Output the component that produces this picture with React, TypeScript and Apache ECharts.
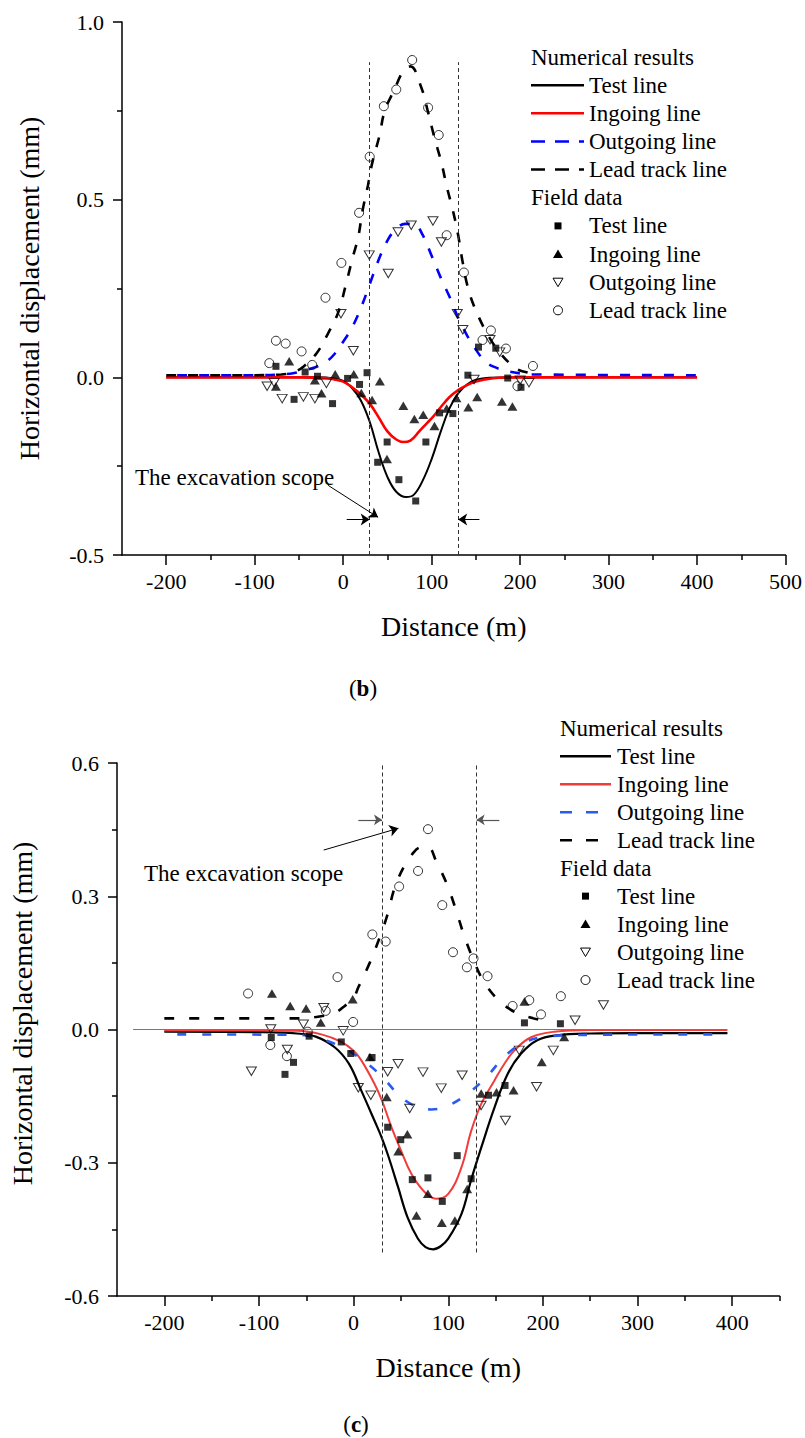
import React, { useEffect, useRef } from 'react';
import * as echarts from 'echarts';

const FONT = "'Liberation Serif', 'Times New Roman', Times, serif";

// ---------- Panel (b) ----------
const bXMajor = [-200, -100, 0, 100, 200, 300, 400, 500];
const bXMinor = [-150, -50, 50, 150, 250, 350, 450];
const bYMajor = [-0.5, 0, 0.5, 1.0];
const bYMinor = [-0.25, 0.25, 0.75];

const bTestCurve = [[-200, 0], [-100, 0], [-30, 0], [-10, -0.003], [0, -0.01], [10, -0.03], [20, -0.065], [30, -0.125], [40, -0.21], [50, -0.28], [60, -0.322], [71, -0.337], [80, -0.33], [90, -0.29], [100, -0.23], [110, -0.155], [120, -0.088], [130, -0.045], [140, -0.02], [150, -0.007], [165, -0.001], [200, 0], [400, 0]];
const bIngoingCurve = [[-200, 0], [-50, 0], [-20, -0.002], [-10, -0.006], [0, -0.012], [10, -0.028], [20, -0.048], [30, -0.074], [40, -0.112], [50, -0.152], [60, -0.175], [68, -0.182], [76, -0.178], [86, -0.152], [95, -0.128], [102, -0.11], [110, -0.085], [120, -0.056], [130, -0.036], [140, -0.022], [150, -0.012], [160, -0.006], [176, -0.001], [200, 0], [400, 0]];
const bOutgoingCurve = [[-200, 0.006], [-100, 0.006], [-60, 0.01], [-50, 0.015], [-40, 0.022], [-30, 0.03], [-20, 0.042], [-10, 0.065], [0, 0.1], [10, 0.14], [20, 0.195], [30, 0.262], [40, 0.33], [50, 0.385], [60, 0.418], [70, 0.432], [80, 0.432], [90, 0.4], [100, 0.342], [110, 0.282], [120, 0.228], [130, 0.168], [140, 0.118], [150, 0.078], [160, 0.046], [170, 0.03], [185, 0.018], [200, 0.011], [215, 0.008], [400, 0.006]];
const bLeadCurve = [[-200, 0.006], [-100, 0.006], [-70, 0.008], [-55, 0.016], [-45, 0.03], [-30, 0.068], [-17, 0.124], [-6, 0.18], [3, 0.26], [10, 0.33], [17, 0.395], [22, 0.47], [28, 0.54], [33, 0.605], [41, 0.68], [47, 0.75], [58, 0.81], [68, 0.862], [76, 0.875], [88, 0.818], [96, 0.746], [103, 0.676], [111, 0.605], [117, 0.538], [124, 0.47], [130, 0.4], [135, 0.325], [141, 0.253], [150, 0.188], [165, 0.113], [177, 0.07], [190, 0.035], [197, 0.022], [215, 0.01]];

const bTestField = [[-76, 0.031], [-55.5, -0.062], [-43, 0.015], [-29, 0.003], [-12, -0.074], [5, -0.003], [18.5, -0.02], [27, 0.013], [39, -0.239], [49.7, -0.182], [63, -0.288], [82, -0.348], [93.5, -0.182], [109, -0.1], [124, -0.102], [141, 0.006], [153, 0.085], [172.5, 0.082], [186, -0.002], [201, -0.028]];
const bIngoingField = [[-76, -0.026], [-61, 0.045], [-32, -0.008], [-24.5, -0.045], [-9, 0.009], [12, 0.009], [20.5, -0.044], [32.7, -0.064], [41.5, -0.011], [49.5, -0.23], [68, -0.08], [80.5, -0.117], [90.5, -0.105], [103.2, -0.137], [117, -0.088], [128, -0.058], [141.5, -0.084], [151.5, -0.055], [179.5, -0.068], [191.3, -0.082]];
const bOutgoingField = [[-86, -0.025], [-78, -0.015], [-69, -0.06], [-45, -0.055], [-32, -0.06], [-19, -0.017], [-2.5, 0.179], [11.5, 0.075], [29.5, 0.344], [51, 0.292], [62, 0.409], [77, 0.428], [101.5, 0.44], [111, 0.381], [129, 0.179], [135.3, 0.134], [148, -0.006], [166, 0.106], [177, 0.071], [200, -0.008], [210, -0.015]];
const bLeadField = [[-83.5, 0.04], [-76, 0.103], [-65, 0.095], [-47, 0.073], [-35, 0.035], [-20, 0.224], [-2, 0.322], [18, 0.463], [30, 0.621], [46, 0.763], [60, 0.81], [78, 0.893], [96, 0.759], [108, 0.682], [117, 0.4], [136.5, 0.295], [157.5, 0.105], [167, 0.132], [184, 0.081], [197, -0.025], [214.5, 0.032]];

// ---------- Panel (c) ----------
const cXMajor = [-200, -100, 0, 100, 200, 300, 400];
const cXMinor = [-150, -50, 50, 150, 250, 350, 450];
const cYMajor = [-0.6, -0.3, 0, 0.3, 0.6];
const cYMinor = [-0.45, -0.15, 0.15, 0.45];

const cTestCurve = [[-200, -0.005], [-100, -0.006], [-60, -0.009], [-40, -0.016], [-20, -0.04], [-5, -0.077], [8, -0.137], [22, -0.205], [30, -0.245], [37, -0.287], [47, -0.355], [57, -0.423], [68, -0.471], [76, -0.49], [84, -0.495], [92, -0.488], [100, -0.471], [114, -0.415], [124, -0.34], [135, -0.265], [149, -0.175], [163, -0.099], [177, -0.054], [194, -0.024], [215, -0.013], [250, -0.009], [300, -0.008], [395, -0.008]];
const cIngoingCurve = [[-200, -0.002], [-60, -0.003], [-34, -0.011], [-13, -0.028], [0, -0.048], [8, -0.069], [22, -0.122], [30, -0.16], [40, -0.22], [50, -0.272], [61, -0.325], [75, -0.366], [87, -0.381], [100, -0.37], [114, -0.31], [124, -0.23], [135, -0.167], [149, -0.114], [160, -0.075], [170, -0.047], [187, -0.018], [212, -0.005], [250, -0.001], [395, -0.001]];
const cOutgoingCurve = [[-200, -0.011], [-60, -0.012], [-37, -0.02], [-13, -0.039], [12, -0.073], [30, -0.106], [50, -0.152], [68, -0.175], [82, -0.18], [100, -0.171], [121, -0.144], [142, -0.103], [159, -0.062], [177, -0.033], [201, -0.017], [250, -0.012], [380, -0.011]];
const cLeadCurve = [[-200, 0.025], [-60, 0.025], [-40, 0.028], [-20, 0.038], [-10, 0.052], [0, 0.072], [5, 0.095], [17, 0.15], [28, 0.21], [36, 0.26], [43.5, 0.32], [54, 0.37], [62, 0.395], [70, 0.41], [78, 0.412], [88, 0.375], [99, 0.325], [108, 0.27], [117, 0.21], [127, 0.155], [137, 0.11], [152, 0.068], [165, 0.046], [177, 0.033], [198, 0.021]];

const cTestField = [[-87, -0.018], [-72.5, -0.101], [-63.5, -0.074], [-47, -0.015], [-13, -0.028], [-3, -0.054], [19.5, -0.063], [36, -0.22], [49.8, -0.248], [62, -0.338], [78.5, -0.334], [93.7, -0.387], [109.5, -0.284], [124.2, -0.336], [142.5, -0.148], [160, -0.126], [180.5, 0.015], [218.5, 0.013]];
const cIngoingField = [[-86.3, 0.081], [-67, 0.053], [-50.2, 0.047], [-34.7, 0.016], [-1, 0.068], [17.2, -0.062], [35, -0.152], [47.2, -0.274], [56.8, -0.236], [66.4, -0.419], [78.5, -0.37], [93.2, -0.435], [107, -0.43], [120, -0.359], [134.8, -0.144], [151, -0.141], [169, -0.137], [180.5, 0.063], [198.8, -0.073], [222.5, -0.017]];
const cOutgoingField = [[-108, -0.094], [-87.5, 0.001], [-70, -0.045], [-53, 0.012], [-31.5, 0.049], [-11, -0.003], [5, -0.131], [18.2, -0.148], [36, -0.095], [47, -0.077], [59.3, -0.178], [73.3, -0.096], [92.6, -0.132], [114.7, -0.103], [134.7, -0.171], [160.4, -0.205], [175, -0.047], [193.3, -0.129], [211, -0.047], [234, 0.021], [264, 0.055]];
const cLeadField = [[-111.5, 0.081], [-88, -0.035], [-70.5, -0.06], [-48.5, -0.005], [-29.5, 0.042], [-17, 0.118], [-0.5, 0.017], [19.8, 0.214], [33.9, 0.198], [48.1, 0.322], [68.1, 0.357], [78.6, 0.451], [93.7, 0.28], [105, 0.174], [119.7, 0.14], [126.7, 0.16], [141.5, 0.12], [168, 0.053], [185.6, 0.066], [198, 0.034], [219, 0.075]];

const legendLines = ['Test line', 'Ingoing line', 'Outgoing line', 'Lead track line'];
const legendHeaders = ['Numerical results', 'Field data'];

function mkXAxes(gi: number, min: number, max: number, major: number[], minor: number[]) {
  return [
    {
      type: 'value', gridIndex: gi, min, max, position: 'bottom',
      name: 'Distance (m)', nameLocation: 'middle', nameGap: 57,
      nameTextStyle: { fontFamily: FONT, fontSize: 28, color: '#000' },
      axisLine: { show: true, onZero: false, lineStyle: { color: '#000', width: 1.5 } },
      axisTick: { show: true, length: 10, customValues: major, lineStyle: { color: '#000', width: 1.5 } },
      axisLabel: { show: true, customValues: major, margin: 15, fontFamily: FONT, fontSize: 22, color: '#000', formatter: (v: number) => String(v) },
      splitLine: { show: false },
    },
    {
      type: 'value', gridIndex: gi, min, max, position: 'bottom',
      axisLine: { show: false, onZero: false },
      axisTick: { show: true, length: 5, customValues: minor, lineStyle: { color: '#000', width: 1.5 } },
      axisLabel: { show: false },
      splitLine: { show: false },
    },
  ];
}

function mkYAxes(gi: number, min: number, max: number, major: number[], minor: number[], gap: number, shift: number) {
  return [
    {
      type: 'value', gridIndex: gi, min, max, position: 'left',
      name: 'Horizontal displacement (mm)', nameLocation: 'middle', nameGap: gap,
      nameTextStyle: { fontFamily: FONT, fontSize: 28, color: '#000', padding: shift >= 0 ? [0, 0, 0, shift] : [0, -shift, 0, 0] },
      axisLine: { show: true, onZero: false, lineStyle: { color: '#000', width: 1.5 } },
      axisTick: { show: true, length: 9, customValues: major, lineStyle: { color: '#000', width: 1.5 } },
      axisLabel: { show: true, customValues: major, margin: 18, fontFamily: FONT, fontSize: 22, color: '#000', formatter: (v: number) => v.toFixed(1) },
      splitLine: { show: false },
    },
    {
      type: 'value', gridIndex: gi, min, max, position: 'left',
      axisLine: { show: false, onZero: false },
      axisTick: { show: true, length: 5, customValues: minor, lineStyle: { color: '#000', width: 1.5 } },
      axisLabel: { show: false },
      splitLine: { show: false },
    },
  ];
}

function lineS(gi: number, data: number[][], color: string, width: number, dash: any, dashOffset = 0, extra: any = {}) {
  return {
    type: 'line', xAxisIndex: gi * 2, yAxisIndex: gi * 2, data,
    showSymbol: false, symbol: 'none', smooth: 0.4,
    color, itemStyle: { color },
    lineStyle: { color, width, type: dash, dashOffset },
    z: 2, silent: true, ...extra,
  };
}

const hollow = { color: 'rgba(255,255,255,0)', borderColor: '#000', borderWidth: 1 };
const filled = { color: '#000', borderWidth: 0 };

function scatterSet(gi: number, test: number[][], ing: number[][], out: number[][], lead: number[][], extraTest: any = {}) {
  return [
    { type: 'scatter', xAxisIndex: gi * 2, yAxisIndex: gi * 2, data: test, symbol: 'rect', symbolSize: 7, itemStyle: filled, z: 3, silent: true, ...extraTest },
    { type: 'scatter', xAxisIndex: gi * 2, yAxisIndex: gi * 2, data: ing, symbol: 'triangle', symbolSize: [10, 8.5], itemStyle: filled, z: 3, silent: true },
    { type: 'scatter', xAxisIndex: gi * 2, yAxisIndex: gi * 2, data: out, symbol: 'triangle', symbolRotate: 180, symbolSize: [10, 8.5], itemStyle: hollow, z: 3, silent: true },
    { type: 'scatter', xAxisIndex: gi * 2, yAxisIndex: gi * 2, data: lead, symbol: 'circle', symbolSize: 9, itemStyle: hollow, z: 3, silent: true },
  ];
}

function legendGraphics(L: any) {
  const els: any[] = [];
  const txt = (x: number, y: number, s: string) => ({ type: 'text', x, y, style: { text: s, fontFamily: FONT, fontSize: 23, fill: '#000', verticalAlign: 'middle', align: 'left' } });
  const row = (i: number) => L.y0 + i * L.step;
  els.push(txt(L.hx, row(0), legendHeaders[0]));
  L.lines.forEach((ls: any, i: number) => {
    const y = row(i + 1);
    els.push({ type: 'line', shape: { x1: L.lx1, y1: y, x2: L.lx2, y2: y }, style: { stroke: ls.color, lineWidth: ls.width, lineDash: ls.dash || null } });
    els.push(txt(L.tx, y, legendLines[i]));
  });
  els.push(txt(L.hx, row(5), legendHeaders[1]));
  const m = L.mx;
  let y = row(6);
  els.push({ type: 'rect', shape: { x: m - 3.5, y: y - 3.5, width: 7, height: 7 }, style: { fill: '#000' } });
  els.push(txt(L.tx, y, legendLines[0]));
  y = row(7);
  els.push({ type: 'polygon', shape: { points: [[m, y - 4.5], [m + 5, y + 4], [m - 5, y + 4]] }, style: { fill: '#000' } });
  els.push(txt(L.tx, y, legendLines[1]));
  y = row(8);
  els.push({ type: 'polygon', shape: { points: [[m - 5, y - 4], [m + 5, y - 4], [m, y + 4.5]] }, style: { fill: 'none', stroke: '#000', lineWidth: 1 } });
  els.push(txt(L.tx, y, legendLines[2]));
  y = row(9);
  els.push({ type: 'circle', shape: { cx: m, cy: y, r: 4.5 }, style: { fill: 'none', stroke: '#000', lineWidth: 1 } });
  els.push(txt(L.tx, y, legendLines[3]));
  return els;
}

const B_RED = '#ff0000', B_BLUE = '#0000ff';
const C_RED = '#f23c3c', C_BLUE = '#2a5bf0';

function buildOption() {
  const vDash = { color: '#333', width: 1, type: [4, 3] };
  const series: any[] = [
    // Panel b lines
    lineS(0, bTestCurve, '#000', 2, 'solid', 0, {
      markLine: {
        silent: true, symbol: ['none', 'none'], label: { show: false }, lineStyle: vDash,
        data: [
          [{ coord: [30, -0.5] }, { coord: [30, 0.887] }],
          [{ coord: [130, -0.5] }, { coord: [130, 0.887] }],
        ],
      },
    }),
    lineS(0, bIngoingCurve, B_RED, 2.6, 'solid'),
    lineS(0, bOutgoingCurve, B_BLUE, 2.6, [10, 12], 11),
    lineS(0, bLeadCurve, '#000', 2.6, [10, 12], 0, {
      markLine: {
        silent: true, symbol: ['none', 'arrow'], symbolSize: 9, label: { show: false },
        lineStyle: { color: '#000', width: 1, type: 'solid' },
        data: [
          [{ coord: [-17, -0.304] }, { coord: [39.5, -0.394] }],
          [{ coord: [4, -0.4] }, { coord: [30, -0.4] }],
          [{ coord: [154, -0.4] }, { coord: [130, -0.4] }],
        ],
      },
    }),
    ...scatterSet(0, bTestField, bIngoingField, bOutgoingField, bLeadField),
    // Panel c lines
    lineS(1, cTestCurve, '#000', 2.2, 'solid', 0, {
      markLine: {
        silent: true, symbol: ['none', 'none'], label: { show: false }, lineStyle: vDash,
        data: [
          [{ coord: [30, -0.502] }, { coord: [30, 0.6] }],
          [{ coord: [130, -0.502] }, { coord: [130, 0.6] }],
        ],
      },
    }),
    lineS(1, cIngoingCurve, C_RED, 2, 'solid', 0, {
      markLine: {
        silent: true, symbol: ['none', 'none'], label: { show: false },
        lineStyle: { color: '#777', width: 1, type: 'solid' },
        data: [[{ coord: [-233, 0] }, { coord: [385, 0] }]],
      },
    }),
    lineS(1, cOutgoingCurve, C_BLUE, 2.6, [9, 16], 12),
    lineS(1, cLeadCurve, '#000', 2.6, [10, 15], 0, {
      markLine: {
        silent: true, symbol: ['none', 'arrow'], symbolSize: 9, label: { show: false },
        lineStyle: { color: '#000', width: 1, type: 'solid' },
        data: [[{ coord: [-31.6, 0.404] }, { coord: [47.4, 0.453] }]],
      },
    }),
    ...scatterSet(1, cTestField, cIngoingField, cOutgoingField, cLeadField, {
      markLine: {
        silent: true, symbol: ['none', 'arrow'], symbolSize: 8, label: { show: false },
        lineStyle: { color: '#555', width: 1.2, type: 'solid' },
        data: [
          [{ coord: [5, 0.472] }, { coord: [30, 0.472], itemStyle: { color: '#555' } }],
          [{ coord: [154, 0.472] }, { coord: [130, 0.472], itemStyle: { color: '#555' } }],
        ],
      },
    }),
  ];

  const legendB = legendGraphics({
    hx: 531, y0: 57, step: 28.15, lx1: 531, lx2: 584, tx: 589, mx: 558,
    lines: [
      { color: '#000', width: 2.5 },
      { color: B_RED, width: 2.5 },
      { color: B_BLUE, width: 2.5, dash: [14, 10] },
      { color: '#000', width: 2.5, dash: [14, 10] },
    ],
  });
  const legendC = legendGraphics({
    hx: 560, y0: 728.3, step: 27.97, lx1: 560, lx2: 611, tx: 617, mx: 585.5,
    lines: [
      { color: '#000', width: 2.5 },
      { color: C_RED, width: 2.5 },
      { color: C_BLUE, width: 2.5, dash: [12, 14] },
      { color: '#000', width: 2.5, dash: [12, 14] },
    ],
  });

  const excText = (x: number, y: number) => ({ type: 'text', x, y, style: { text: 'The excavation scope', fontFamily: FONT, fontSize: 23, fill: '#000', verticalAlign: 'middle', align: 'left' } });
  const panelLabel = (x: number, y: number, letter: string) => ({
    type: 'text', x, y,
    style: {
      text: '{n|(}{b|' + letter + '}{n|)}', align: 'center', verticalAlign: 'middle',
      rich: { n: { fontFamily: FONT, fontSize: 23, color: '#000' }, b: { fontFamily: FONT, fontSize: 23, fontWeight: 'bold', color: '#000' } },
    },
  });

  return {
    animation: false,
    backgroundColor: '#fff',
    textStyle: { fontFamily: FONT },
    grid: [
      { left: 122, top: 22, width: 664.7, height: 533 },
      { left: 114.5, top: 763, width: 665, height: 533 },
    ],
    xAxis: [...mkXAxes(0, -250, 500, bXMajor, bXMinor), ...mkXAxes(1, -250, 450, cXMajor, cXMinor)],
    yAxis: [...mkYAxes(0, -0.5, 1.0, bYMajor, bYMinor, 79, 0), ...mkYAxes(1, -0.6, 0.6, cYMajor, cYMinor, 81, 32)],
    series,
    graphic: {
      elements: [
        ...legendB, ...legendC,
        excText(135, 477), excText(144, 873),
        panelLabel(363, 688, 'b'), panelLabel(356, 1424, 'c'),
      ],
    },
  };
}

export default function App() {
  const ref = useRef<HTMLDivElement>(null);
  useEffect(() => {
    document.body.style.margin = '0';
    const chart = echarts.init(ref.current as HTMLDivElement, null, { renderer: 'svg' });
    chart.setOption(buildOption() as any);
    return () => chart.dispose();
  }, []);
  return <div ref={ref} style={{ width: 805, height: 1438 }} />;
}
